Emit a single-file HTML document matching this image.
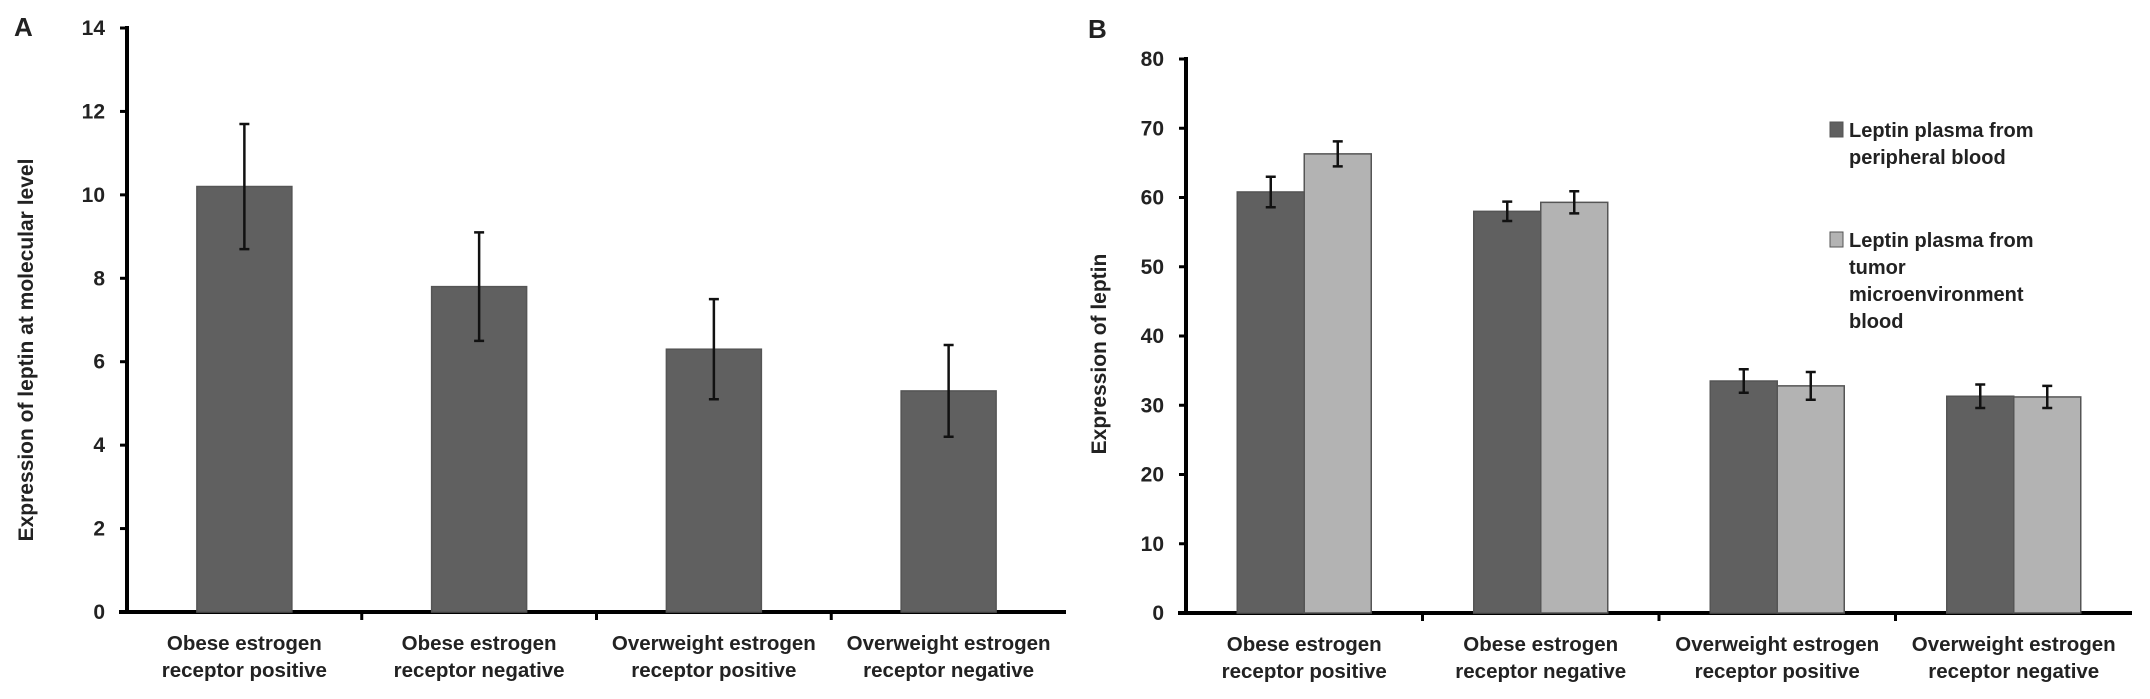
<!DOCTYPE html>
<html><head><meta charset="utf-8"><style>
html,body{margin:0;padding:0;background:#fff}
svg{display:block}
text{font-family:"Liberation Sans",Arial,sans-serif;font-weight:bold;fill:#222}
</style></head><body>
<svg id="fig" width="2150" height="699" viewBox="0 0 2150 699">
<text x="14" y="36" font-size="26" font-weight="normal">A</text>
<text x="1088" y="38" font-size="26">B</text>
<g id="chartA"></g>
<g id="chartB"></g>
</svg>
<script>
const categories = ["Obese estrogen|receptor positive","Obese estrogen|receptor negative","Overweight estrogen|receptor positive","Overweight estrogen|receptor negative"];
const aValues = [10.2, 7.8, 6.3, 5.3];
const aErrors = [1.5, 1.3, 1.2, 1.1];
const aTicks = [0,2,4,6,8,10,12,14];
const bPeripheral = [60.8, 58.0, 33.5, 31.3];
const bPeripheralErr = [2.2, 1.4, 1.7, 1.7];
const bTumor = [66.3, 59.3, 32.8, 31.2];
const bTumorErr = [1.8, 1.6, 2.0, 1.6];
const bTicks = [0,10,20,30,40,50,60,70,80];
const legendLabels = ["Leptin plasma from|peripheral blood","Leptin plasma from|tumor|microenvironment|blood"];

const NS="http://www.w3.org/2000/svg";
function mk(parent,tag,attrs){const e=document.createElementNS(NS,tag);for(const k in attrs)e.setAttribute(k,attrs[k]);parent.appendChild(e);return e;}

function axes(g,x0,x1,yTop,y0,ticks,max,title,titleX,titleY){
  const ys=v=>y0-(v/max)*(y0-yTop);
  const ya=mk(g,'line',{x1:x0,y1:yTop-2,x2:x0,y2:y0+2,stroke:'#000','stroke-width':4});
  
  
  const xa=mk(g,'line',{x1:x0-8,y1:y0,x2:x1,y2:y0,stroke:'#000','stroke-width':4});
  
  
  ticks.forEach(t=>{
    const y=ys(t);
    const tk=mk(g,'line',{x1:x0-7,y1:y,x2:x0,y2:y,stroke:'#000','stroke-width':3});
    
    
    const tl=mk(g,'text',{x:x0-22,y:y+7,'font-size':21,'text-anchor':'end'});
    tl.textContent=t;
    
    
  });
  const cw=(x1-x0)/categories.length;
  categories.forEach((c,i)=>{
    if(i>0){const tk=mk(g,'line',{x1:x0+cw*i,y1:y0,x2:x0+cw*i,y2:y0+8,stroke:'#000','stroke-width':3});
      
      }
    const parts=c.split('|');
    parts.forEach((p,j)=>{
      const tx=mk(g,'text',{x:x0+cw*(i+0.5),y:y0+38+j*27,'font-size':20.5,'text-anchor':'middle'});
      tx.textContent=p;
      
      
    });
  });
  const cy=titleY;
  const tt=mk(g,'text',{x:titleX,y:cy,'font-size':21,'text-anchor':'middle',transform:`rotate(-90 ${titleX} ${cy})`});
  tt.textContent=title;
  
  
  return {ys,cw};
}
function bar(g,x,w,v,err,ys,fill,name){
  const r=mk(g,'rect',{x:x,y:ys(v),width:w,height:ys(0)-ys(v),fill:fill,stroke:'#555','stroke-width':1.5});
  
  
  const cx=x+w/2;
  const eb=mk(g,'path',{d:`M${cx},${ys(v+err)}V${ys(v-err)}M${cx-5},${ys(v+err)}h10M${cx-5},${ys(v-err)}h10`,stroke:'#111','stroke-width':2.5,fill:'none'});
  
  
}
// Chart A
(function(){
  const g=document.getElementById('chartA');
  const x0=127,x1=1066,yTop=28,y0=612;
  const {ys,cw}=axes(g,x0,x1,yTop,y0,aTicks,14,'Expression of leptin  at molecular level',33,350);
  aValues.forEach((v,i)=>{
    const bw=95;
    bar(g,x0+cw*(i+0.5)-bw/2,bw,v,aErrors[i],ys,'#606060','bar-a-'+(i+1));
  });
})();
// Chart B
(function(){
  const g=document.getElementById('chartB');
  const x0=1186,x1=2132,yTop=59,y0=613;
  const {ys,cw}=axes(g,x0,x1,yTop,y0,bTicks,80,'Expression  of leptin',1106,354);
  const bw=67;
  bPeripheral.forEach((v,i)=>{
    const c=x0+cw*(i+0.5);
    bar(g,c-bw,bw,v,bPeripheralErr[i],ys,'#606060','bar-peripheral-'+(i+1));
    bar(g,c,bw,bTumor[i],bTumorErr[i],ys,'#b3b3b3','bar-tumor-'+(i+1));
  });
  const lg=mk(g,'g',{});
  
  
  const colors=['#606060','#b3b3b3'];
  const starts=[130,240];
  legendLabels.forEach((l,i)=>{
    const sw=mk(lg,'rect',{x:1830,y:starts[i]-8,width:13,height:15,fill:colors[i],stroke:'#555','stroke-width':1});
    
    
    l.split('|').forEach((p,j)=>{
      const t=mk(lg,'text',{x:1849,y:starts[i]+7+j*27,'font-size':20});
      t.textContent=p;
      
      
    });
  });
})();
</script>
</body></html>
